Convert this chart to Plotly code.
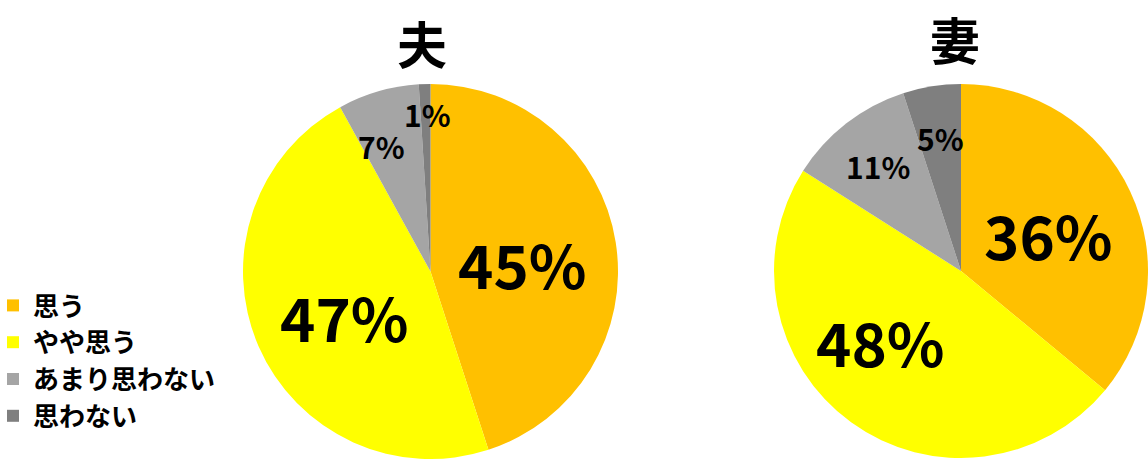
import plotly.graph_objects as go

# Survey answers for husbands and wives (percent of respondents)
categories = ["思う", "やや思う", "あまり思わない", "思わない"]
husband = [45, 47, 7, 1]
wife = [36, 48, 11, 5]
pie_titles = ["夫", "妻"]

colors = ["#FFC000", "#FFFF00", "#A5A5A5", "#7F7F7F"]

W, H = 1148, 459
FONT = "Noto Sans CJK JP"


def px(x, y):
    """Pixel position (from top-left) to paper coordinates."""
    return x / W, 1 - y / H


# pie boxes in pixels: (left, top, right, bottom)
boxes = [(243, 84, 618, 459), (774, 83, 1148, 459)]
# label anchor points (pixels) and font sizes for each slice
label_pos = [
    [(522, 262), (345, 315), (381, 146), (427, 114)],
    [(1048, 234), (880, 340), (878, 166), (940, 138)],
]
label_size = [60, 60, 30, 30]
title_pos = [(422, 42), (955, 38)]

fig = go.Figure()
annotations = []
for i, (vals, box) in enumerate(zip([husband, wife], boxes)):
    l, t, r, b = box
    fig.add_trace(go.Pie(
        labels=categories,
        values=vals,
        sort=False,
        direction="clockwise",
        rotation=0,
        textinfo="none",
        hovertemplate="%{label}: %{value}%<extra></extra>",
        marker=dict(colors=colors, line=dict(width=0)),
        domain=dict(x=[l / W, r / W], y=[1 - b / H, 1 - t / H]),
        showlegend=(i == 0),
    ))
    for v, (lx, ly), fs in zip(vals, label_pos[i], label_size):
        ax, ay = px(lx, ly)
        annotations.append(dict(
            x=ax, y=ay, xref="paper", yref="paper", text=f"{v}%",
            showarrow=False, xanchor="center", yanchor="middle",
            font=dict(family=FONT, size=fs, color="#000000", weight="bold"),
        ))
    tx, ty = px(*title_pos[i])
    annotations.append(dict(
        x=tx, y=ty, xref="paper", yref="paper", text=pie_titles[i],
        showarrow=False, xanchor="center", yanchor="middle",
        font=dict(family=FONT, size=50, color="#000000", weight="bold"),
    ))

fig.update_layout(
    width=W, height=H,
    margin=dict(l=0, r=0, t=0, b=0, autoexpand=False),
    paper_bgcolor="#FFFFFF",
    plot_bgcolor="#FFFFFF",
    annotations=annotations,
    legend=dict(
        x=-7 / W, y=1 - 282 / H, xanchor="left", yanchor="top",
        font=dict(family=FONT, size=26, color="#000000", weight="bold"),
        bgcolor="rgba(0,0,0,0)",
        tracegroupgap=0,
    ),
)

fig.write_html("out.html")
